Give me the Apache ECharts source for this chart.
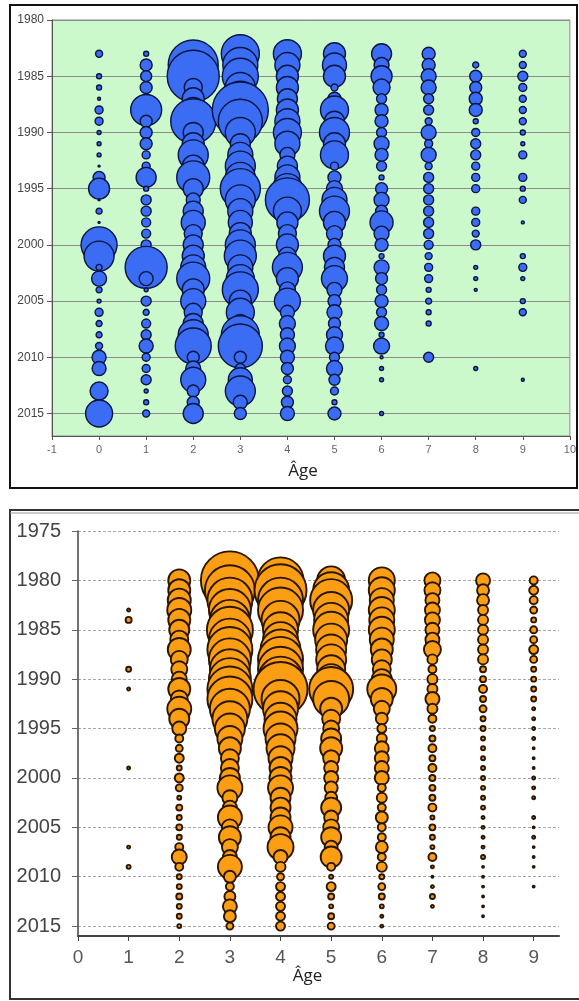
<!DOCTYPE html>
<html>
<head>
<meta charset="utf-8">
<script src="https://cdn.jsdelivr.net/npm/echarts@6/dist/echarts.min.js"></script>
<style>
html,body{margin:0;padding:0;background:#fff;}
#c{width:579px;height:1001px;}
</style>
</head>
<body>
<div id="c"></div>
<script>
// ---------- Top panel (blue) : years 1983-2015, ages 0-9 ----------
const topYears = [1983,1984,1985,1986,1987,1988,1989,1990,1991,1992,1993,1994,1995,1996,1997,1998,1999,2000,2001,2002,2003,2004,2005,2006,2007,2008,2009,2010,2011,2012,2013,2014,2015];
const topAges = [0,1,2,3,4,5,6,7,8,9];
const top0 = [7,0,5,5,3,8,8,4,4,4, 2,12,21,2,6,2,4,36,30,6, 15,6,4,8,6,6,7,14,14,0, 18,0,27];
const top1 = [5,12,11,12,8,31,12,12,12,8, 8,20,5,10,10,9,9,10,8,42, 14,4,10,6,9,10,14,8,8,10, 4,5,7];
const top2 = [20,50,52,18,22,25,45,20,22,30, 22,33,20,14,20,24,18,20,22,25, 33,22,25,18,20,30,36,12,15,25, 12,12,20];
const top3 = [38,35,36,30,35,56,44,30,20,25, 30,30,40,30,25,24,22,30,32,25, 28,36,22,28,18,38,44,12,10,24, 30,14,12];
const top4 = [28,25,22,22,20,22,25,28,25,15, 20,25,30,44,28,21,18,22,18,30, 22,16,26,14,16,14,16,14,12,8, 10,12,14];
const top5 = [22,24,22,7,13,28,20,30,22,28, 8,13,16,25,30,22,16,13,22,20, 26,15,13,15,12,16,18,10,16,11, 8,5,13];
const top6 = [20,15,21,17,10,13,13,10,15,13, 10,5,12,15,12,23,15,13,5,15, 12,10,13,10,14,5,16,3,4,4, 0,0,4];
const top7 = [13,13,15,15,10,10,7,15,8,15, 7,10,10,10,10,10,10,9,7,8, 8,5,6,5,5,0,0,10,0,0, 0,0,0];
const top8 = [0,6,12,12,13,13,5,8,10,10, 8,8,8,0,8,8,7,10,0,4, 4,3,0,0,0,0,0,0,4,0, 0,0,0];
const top9 = [7,7,10,8,7,7,7,5,4,8, 0,8,5,7,0,3,0,0,5,8, 4,0,5,7,0,0,0,0,0,3, 0,0,0];
const topRows = [top0,top1,top2,top3,top4,top5,top6,top7,top8,top9];

// ---------- Bottom panel (orange) : years 1980-2015, ages 1-9 ----------
const botYears = [1980,1981,1982,1983,1984,1985,1986,1987,1988,1989,1990,1991,1992,1993,1994,1995,1996,1997,1998,1999,2000,2001,2002,2003,2004,2005,2006,2007,2008,2009,2010,2011,2012,2013,2014,2015];
const botAges = [1,2,3,4,5,6,7,8,9];
const bot1 = [0,0,0,3,6,0,0,0,0,5, 0,3,0,0,0,0,0,0,0,3, 0,0,0,0,0,0,0,3,0,4, 0,0,0,0,0,0];
const bot2 = [22,22,23,24,22,20,18,23,17,16, 15,22,17,24,20,14,8,7,9,5, 9,7,4,6,5,6,5,8,15,8, 5,5,6,5,5,4];
const bot3 = [58,50,45,42,40,46,42,45,42,40, 42,45,45,40,35,30,25,22,18,18, 20,25,15,14,24,16,22,16,14,24, 12,8,11,14,12,7];
const bot4 = [46,52,45,45,38,35,35,40,45,45, 45,54,38,35,32,34,30,28,24,22, 22,25,20,20,20,24,20,26,14,10, 7,9,9,9,9,9];
const bot5 = [28,36,42,36,34,36,32,30,30,28, 30,44,36,22,18,16,20,22,16,14, 14,13,12,20,14,16,20,13,21,8, 4,9,6,4,6,7];
const bot6 = [26,26,24,26,25,26,24,22,20,18, 20,29,22,16,12,9,10,14,14,14, 14,8,10,8,12,8,8,12,8,10, 5,7,6,4,3,3];
const bot7 = [16,16,14,15,15,14,14,17,10,8, 10,10,14,10,8,5,6,8,6,8, 6,6,6,8,4,6,5,4,8,3, 2,3,5,3,0,0];
const bot8 = [14,12,12,10,10,10,10,10,10,6, 6,8,6,7,5,5,4,4,4,4, 4,4,4,4,3,3,3,3,4,2, 2,2,2,2,2,0];
const bot9 = [8,9,8,7,5,7,7,9,7,5, 5,5,5,3,3,3,3,2,2,2, 3,3,3,0,3,2,3,2,2,2, 0,2,0,0,0,0];
const botRows = [bot1,bot2,bot3,bot4,bot5,bot6,bot7,bot8,bot9];

function build(ages, years, rows) {
  const out = [];
  ages.forEach((a, i) => {
    rows[i].forEach((v, j) => { if (v > 0) out.push([a, years[j], v]); });
  });
  return out;
}

const chart = echarts.init(document.getElementById('c'), null, {renderer: 'canvas'});
const font = 'Liberation Sans, Arial, sans-serif';
const plain = v => String(v);

chart.setOption({
  animation: false,
  backgroundColor: '#ffffff',
  grid: [
    {left: 52, top: 20, width: 521, height: 416, show: true, backgroundColor: '#ccf9cc', borderColor: '#8a8a8a', borderWidth: 1},
    {left: 78, top: 531, width: 481, height: 405}
  ],
  xAxis: [
    {
      gridIndex: 0, type: 'value', min: -1, max: 10, interval: 1,
      axisLine: {show: true, onZero: false, lineStyle: {color: '#555', width: 1}},
      axisTick: {show: true, length: 4, lineStyle: {color: '#555'}},
      axisLabel: {color: '#666', fontSize: 11, fontFamily: font, margin: 8, formatter: plain},
      splitLine: {show: false},
      name: 'Âge', nameLocation: 'middle', nameGap: 27,
      nameTextStyle: {color: '#222', fontSize: 17, fontFamily: 'Open Sans, sans-serif', padding: [0, 16, 0, 0]}
    },
    {
      gridIndex: 1, type: 'value', min: 0, max: 9.5, interval: 1,
      axisLine: {show: true, onZero: false, lineStyle: {color: '#444', width: 2}},
      axisTick: {show: true, length: 5, lineStyle: {color: '#444'}},
      axisLabel: {color: '#555', fontSize: 19, fontFamily: font, margin: 12, showMaxLabel: false, formatter: plain},
      splitLine: {show: false},
      name: 'Âge', nameLocation: 'middle', nameGap: 31,
      nameTextStyle: {color: '#222', fontSize: 17, fontFamily: 'Open Sans, sans-serif', padding: [0, 22, 0, 0]}
    }
  ],
  yAxis: [
    {
      gridIndex: 0, type: 'value', min: 1980, max: 2017, interval: 5, inverse: true,
      axisLine: {show: true, onZero: false, lineStyle: {color: '#555', width: 1}},
      axisTick: {show: true, length: 5, lineStyle: {color: '#555'}},
      axisLabel: {color: '#444', fontSize: 12, fontFamily: font, margin: 8, showMaxLabel: false, formatter: plain},
      splitLine: {show: true, lineStyle: {color: '#8c8c8c', width: 1}}
    },
    {
      gridIndex: 1, type: 'value', min: 1975, max: 2016, interval: 5, inverse: true,
      axisLine: {show: true, onZero: false, lineStyle: {color: '#444', width: 1.5}},
      axisTick: {show: true, length: 6, lineStyle: {color: '#666'}},
      axisLabel: {color: '#444', fontSize: 20, fontFamily: font, margin: 17, showMaxLabel: false, formatter: plain},
      splitLine: {show: true, lineStyle: {color: '#a8a8a8', width: 1, type: [3, 2]}}
    }
  ],
  series: [
    {
      type: 'scatter', xAxisIndex: 0, yAxisIndex: 0,
      data: build(topAges, topYears, topRows),
      symbolSize: d => d[2],
      itemStyle: {color: '#3a6cf4', borderColor: '#0a1440', borderWidth: 1.4, opacity: 1},
      silent: true
    },
    {
      type: 'scatter', xAxisIndex: 1, yAxisIndex: 1,
      data: build(botAges, botYears, botRows),
      symbolSize: d => d[2],
      itemStyle: {color: '#fb9e14', borderColor: '#2a1600', borderWidth: 1.9, opacity: 1},
      silent: true
    }
  ],
  graphic: [
    {type: 'rect', shape: {x: 10, y: 5, width: 567, height: 483}, style: {fill: 'none', stroke: '#111', lineWidth: 2}, silent: true},
    {type: 'rect', shape: {x: 10, y: 510, width: 580, height: 489}, style: {fill: 'none', stroke: '#333', lineWidth: 2}, silent: true},
    {type: 'line', shape: {x1: 10, y1: 513, x2: 579, y2: 513}, style: {stroke: '#999', lineWidth: 1}, silent: true}
  ]
});
</script>
</body>
</html>
